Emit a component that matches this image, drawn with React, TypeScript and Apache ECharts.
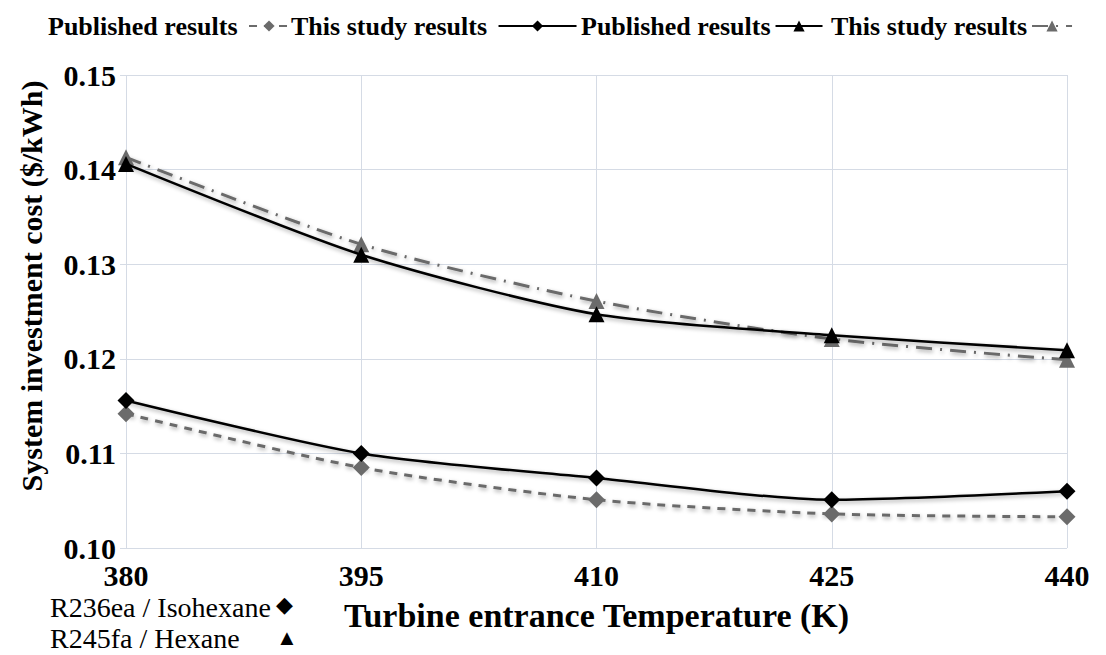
import React, { useEffect, useRef } from "react";
import * as echarts from "echarts";

const categories = ["380", "395", "410", "425", "440"];
const pubIsohexane = [0.1142, 0.1085, 0.1051, 0.1036, 0.1033];
const studyIsohexane = [0.1156, 0.11, 0.1074, 0.1051, 0.106];
const pubHexane = [0.1406, 0.131, 0.1247, 0.1225, 0.1209];
const studyHexane = [0.1413, 0.1321, 0.1261, 0.1221, 0.1199];
const yTicks = { min: 0.1, max: 0.15, interval: 0.01 };
const seriesNames = ["Published results ", "This study results ", "Published results", "This study results"];

const FONT = '"Liberation Serif", "Times New Roman", serif';
const GRAY = "#6b6b6b";

export default function App() {
  const ref = useRef<HTMLDivElement>(null);
  useEffect(() => {
    if (!ref.current) return;
    const chart = echarts.init(ref.current, undefined, { renderer: "svg" });
    const shadow = {
      shadowColor: "rgba(0,0,0,0.35)",
      shadowBlur: 4,
      shadowOffsetX: 1,
      shadowOffsetY: 2,
    };
    const mk = (name: string, data: number[], color: string, type: any, symbol: string, size: number) => ({
      name,
      type: "line",
      data,
      smooth: 0.25,
      symbol,
      symbolSize: size,
      itemStyle: { color },
      lineStyle: { color, width: type === "solid" ? 2.5 : 3, type, ...shadow },
      z: color === GRAY ? 2 : 3,
    });
    const legendLefts = [43, 286, 576, 826];
    const legendWidths = [40, 78, 47, 40];
    const legends = seriesNames.map((n, i) => ({
      left: legendLefts[i],
      top: 8,
      align: "right",
      itemWidth: legendWidths[i],
      itemHeight: 14,
      textStyle: { fontFamily: FONT, fontWeight: "bold", fontSize: 26, color: "#000" },
      data: [{ name: n }],
    }));
    chart.setOption({
      animation: false,
      legend: legends,
      grid: { left: 126, right: 39, top: 75, bottom: 107 },
      xAxis: {
        type: "category",
        data: categories,
        boundaryGap: false,
        axisLine: { show: false },
        axisTick: { show: false },
        splitLine: { show: true, lineStyle: { color: "#d5dbe5", width: 1 } },
        axisLabel: { fontFamily: FONT, fontWeight: "bold", fontSize: 30, color: "#000", margin: 12 },
        name: "Turbine entrance Temperature (K)",
        nameLocation: "middle",
        nameGap: 50,
        nameTextStyle: { fontFamily: FONT, fontWeight: "bold", fontSize: 34, color: "#000" },
      },
      yAxis: {
        type: "value",
        min: yTicks.min,
        max: yTicks.max,
        interval: yTicks.interval,
        axisLine: { show: false },
        axisTick: { show: true, length: 6, lineStyle: { color: "#d5dbe5" } },
        splitLine: { show: true, lineStyle: { color: "#d5dbe5", width: 1 } },
        axisLabel: {
          fontFamily: FONT,
          fontWeight: "bold",
          fontSize: 30,
          color: "#000",
          margin: 10,
          formatter: (v: number) => v.toFixed(2),
        },
      },
      graphic: [
        {
          type: "text",
          x: 31,
          y: 286,
          rotation: Math.PI / 2,
          style: {
            text: "System investment cost ($/kWh)",
            font: `bold 30px ${FONT}`,
            fill: "#000",
            align: "center",
            verticalAlign: "middle",
          },
        },
        {
          type: "text",
          left: 50,
          top: 593,
          style: { text: "R236ea / Isohexane", font: `28px ${FONT}`, fill: "#000" },
        },
        {
          type: "text",
          left: 276,
          top: 593,
          style: { text: "◆", font: `22px ${FONT}`, fill: "#000" },
        },
        {
          type: "text",
          left: 50,
          top: 624,
          style: { text: "R245fa / Hexane", font: `28px ${FONT}`, fill: "#000" },
        },
        {
          type: "text",
          left: 276,
          top: 626,
          style: { text: "▲", font: `22px ${FONT}`, fill: "#000" },
        },
      ],
      series: [
        mk(seriesNames[0], pubIsohexane, GRAY, [8, 7], "diamond", 17),
        mk(seriesNames[1], studyIsohexane, "#000", "solid", "diamond", 17),
        mk(seriesNames[2], pubHexane, "#000", "solid", "triangle", 16),
        mk(seriesNames[3], studyHexane, GRAY, [16, 8, 2, 8], "triangle", 16),
      ],
    });
    return () => chart.dispose();
  }, []);
  return (
    <div
      ref={ref}
      style={{ position: "absolute", left: 0, top: 0, width: 1106, height: 655, background: "#fff" }}
    />
  );
}
